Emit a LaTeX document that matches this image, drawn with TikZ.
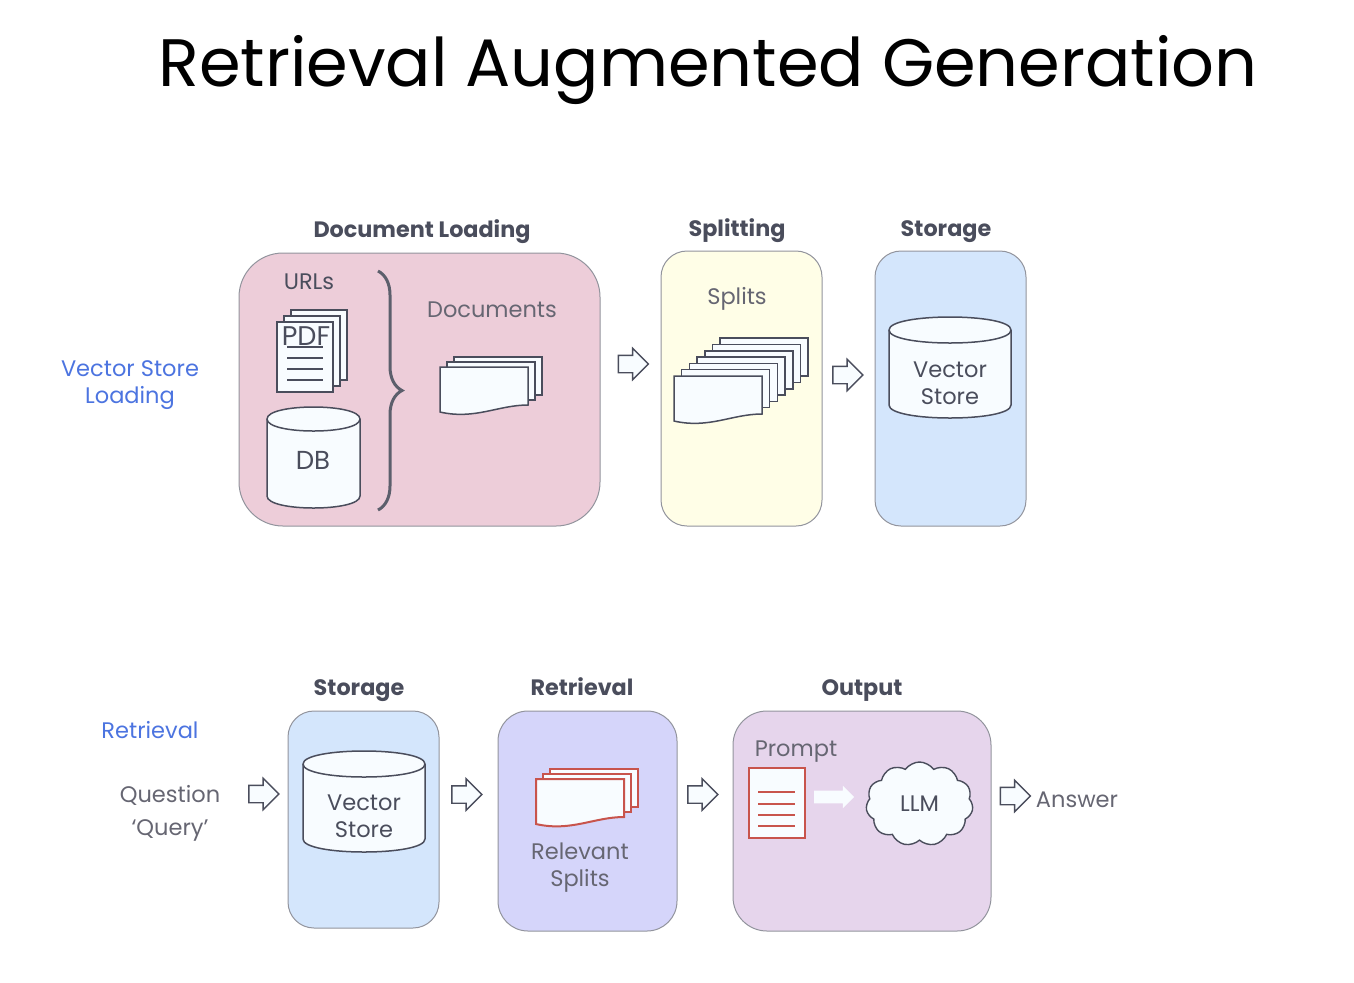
\documentclass[tikz,border=0pt]{standalone}
\usepackage{fontspec}
\setmainfont{Poppins}
\usetikzlibrary{shapes.arrows, shapes.symbols, decorations.pathreplacing}

\definecolor{inkdark}{HTML}{4A4D5C}
\definecolor{inkgray}{HTML}{666672}
\definecolor{inkblue}{HTML}{4C74E0}
\definecolor{paper}{HTML}{F8FCFF}
\definecolor{redline}{HTML}{C8544C}
\definecolor{pinkfill}{HTML}{EDCDD9}
\definecolor{yellowfill}{HTML}{FFFEE7}
\definecolor{bluefill}{HTML}{D4E6FC}
\definecolor{violetfill}{HTML}{D5D5FA}
\definecolor{lilacfill}{HTML}{E6D5EC}

\tikzset{
    panel/.style={draw=inkdark!60, line width=0.5pt, inner sep=0pt},
    txt/.style={font=\fontsize{11.25}{13.5}\selectfont, align=center, inner sep=0pt, text=inkgray},
    dark/.style={txt, text=inkdark},
    head/.style={txt, text=inkdark, font=\fontsize{11.15}{13.5}\selectfont\bfseries},
    side/.style={txt, text=inkblue},
    page/.style={draw=inkdark, fill=paper, line width=0.75pt},
    redpage/.style={draw=redline, fill=paper, line width=1pt},
    rule/.style={draw=inkdark, line width=0.6pt},
    redrule/.style={draw=redline, line width=0.7pt},
    flow/.style={single arrow, draw=inkdark, fill=paper, line width=0.7pt, inner sep=0pt,
        text height=8pt, text depth=0pt, text width=0pt,
        minimum height=15pt, single arrow head extend=3.5pt},
}

% #1 number of back sheets, #2 x step, #3 y step, #4 x, #5 y, #6 style
\newcommand{\sheetstack}[6]{
    \foreach \i in {#1,...,1}
        \draw[#6] ({#4+\i*#2},{#5-\i*#3}) rectangle ++(88,38);
    \draw[#6] (#4,#5) -- ({#4+88},#5) -- ({#4+88},{#5+38})
        .. controls ({#4+58},{#5+38}) and ({#4+35},{#5+53}) .. (#4,{#5+45}) -- cycle;
}

% #1 centre x, #2 half width, #3 top, #4 bottom, #5 half height of the lid
\newcommand{\drumat}[5]{
    \draw[page] ({#1-#2},{#3+#5}) -- ({#1-#2},{#4-#5})
        .. controls ({#1-#2},{#4+#5/3}) and ({#1+#2},{#4+#5/3}) .. ({#1+#2},{#4-#5})
        -- ({#1+#2},{#3+#5})
        .. controls ({#1+#2},{#3-#5/3}) and ({#1-#2},{#3-#5/3}) .. cycle;
    \draw[page] ({#1-#2},{#3+#5})
        .. controls ({#1-#2},{#3+#5*7/3}) and ({#1+#2},{#3+#5*7/3}) .. ({#1+#2},{#3+#5});
}

\begin{document}
\begin{tikzpicture}[x=0.5pt, y=-0.5pt]
    \useasboundingbox (0,0) rectangle (1354,982);

    \node[inner sep=0pt, font=\fontsize{33.55}{40}\selectfont] (title) at (708, 70) {Retrieval Augmented Generation};

    % top row
    \node[panel, fill=pinkfill, rounded corners=22pt, minimum width=180.5pt, minimum height=136.5pt] (loadbox) at (419.5, 389.5) {};
    \node[panel, fill=yellowfill, rounded corners=13pt, minimum width=80.5pt, minimum height=137.5pt] (splitbox) at (741.5, 388.5) {};
    \node[panel, fill=bluefill, rounded corners=13pt, minimum width=75.5pt, minimum height=137.5pt] (storebox) at (950.5, 388.5) {};

    \node[head] (loadhead) at (422, 232) {Document Loading};
    \node[head] (splithead) at (737, 231) {Splitting};
    \node[head] (storehead) at (946, 232) {Storage};
    \node[side] (loadside) at (130, 385) {Vector Store\\Loading};

    \node[dark] (urls) at (309, 282) {URLs};
    \foreach \i in {2,1}
        \draw[page] ({277+\i*7},{322-\i*6}) rectangle ++(56,70);
    \draw[page] (277, 322) rectangle ++(56,70);
    \node[dark, font=\fontsize{13.5}{16}\selectfont] (pdf) at (306, 336.5) {PDF};
    \foreach \y in {347,358,369,380}
        \draw[rule] (287, \y) -- (323, \y);
    \drumat{313.5}{46.5}{407}{508}{12}
    \node[dark, font=\fontsize{13}{16}\selectfont] (db) at (313, 460) {DB};
    \draw[decorate, decoration={brace, amplitude=12pt}, draw=inkdark!90, line width=1.5pt] (378, 271) -- (378, 510);

    \node[txt] (docs) at (492, 310) {Documents};
    \sheetstack{2}{7}{5}{440}{367}{page}

    \node[flow] (arrowa) at (629, 364) {};

    \node[txt] (splits) at (737, 299) {Splits};
    \sheetstack{6}{7.7}{6.3}{674}{376}{page}

    \node[flow] (arrowb) at (843.5, 375) {};

    \drumat{950}{61}{317}{418}{13}
    \node[dark] (storetop) at (950, 383) {Vector\\Store};

    % bottom row
    \node[panel, fill=bluefill, rounded corners=13pt, minimum width=75.5pt, minimum height=108.5pt] (querybox) at (363.5, 819.5) {};
    \node[panel, fill=violetfill, rounded corners=15pt, minimum width=89.5pt, minimum height=110pt] (relbox) at (587.5, 821) {};
    \node[panel, fill=lilacfill, rounded corners=17pt, minimum width=129pt, minimum height=110pt] (outbox) at (862, 821) {};

    \node[head] (queryhead) at (359, 691) {Storage};
    \node[head] (relhead) at (582, 687) {Retrieval};
    \node[head] (outhead) at (862, 691) {Output};
    \node[side] (retside) at (150, 730) {Retrieval};
    \node[txt] (question) at (170, 813) {Question\\[3pt]‘Query’};

    \node[flow] (arrowc) at (259.5, 794) {};
    \drumat{364}{61}{751}{852}{13}
    \node[dark] (storelow) at (364, 816) {Vector\\Store};
    \node[flow] (arrowd) at (462.5, 794.5) {};

    \sheetstack{2}{7}{5}{536}{779}{redpage}
    \node[txt] (relsplits) at (580, 868) {Relevant\\Splits};
    \node[flow] (arrowe) at (698.5, 794.5) {};

    \node[txt] (prompt) at (796, 752) {Prompt};
    \draw[redpage] (748.5, 768) rectangle (805, 838);
    \foreach \y in {792,804,815,826}
        \draw[redrule] (758, \y) -- (795, \y);
    \node[single arrow, fill=paper, inner sep=0pt, text height=6pt, text depth=0pt, text width=0pt, minimum height=20pt, single arrow head extend=2.5pt] (pass) at (831, 797) {};
    \node[cloud, cloud puffs=11, cloud puff arc=110, aspect=1.3, draw=inkdark, fill=paper, line width=0.7pt, inner sep=0pt, minimum width=53.5pt, minimum height=42pt, dark] (llm) at (919.5, 804) {LLM};

    \node[flow] (arrowf) at (1011, 796) {};
    \node[txt] (answer) at (1077, 800) {Answer};
\end{tikzpicture}
\end{document}
